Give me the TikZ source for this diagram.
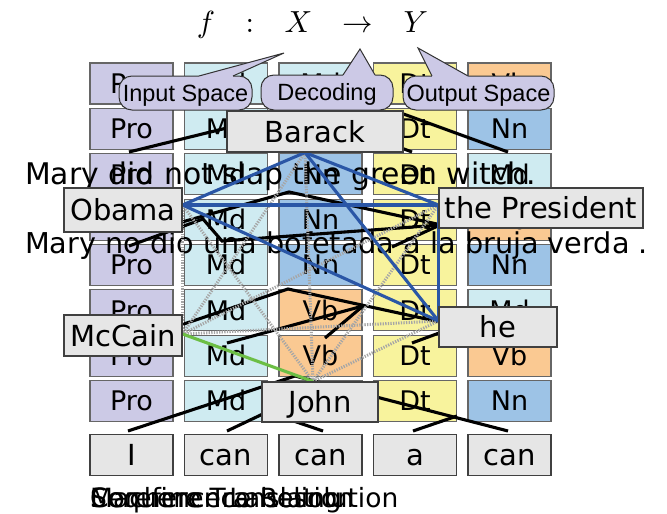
\documentclass[tikz,border=0pt]{standalone}
\usepackage{fontspec}
\setmainfont{DejaVu Sans}
\newfontfamily\callfont{Liberation Sans}
\usetikzlibrary{calc}
\definecolor{cPro}{RGB}{204,202,230}
\definecolor{cMd}{RGB}{207,235,241}
\definecolor{cNn}{RGB}{157,195,230}
\definecolor{cVb}{RGB}{250,201,146}
\definecolor{cDt}{RGB}{248,243,157}
\definecolor{cLbl}{RGB}{230,230,230}
\definecolor{cCall}{RGB}{204,201,230}
\definecolor{cBlue}{RGB}{42,86,166}
\definecolor{cGreen}{RGB}{108,190,69}
\newcommand{\myTagFont}{\fontsize{27}{32}\selectfont}
\newcommand{\myLblFont}{\fontsize{29}{34}\selectfont}
\newcommand{\myEnFont}{\fontsize{29.8}{35}\selectfont}
\newcommand{\myEsFont}{\fontsize{28.7}{34}\selectfont}
\newcommand{\myCallFont}{\callfont\fontsize{23.5}{28}\selectfont}
\newcommand{\myBotFont}{\fontsize{26.5}{31}\selectfont}
\pgfdeclarelayer{back}
\pgfsetlayers{back,main}
\tikzset{
 tagbox/.style={draw=black!60, line width=1.1pt, minimum width=83pt, minimum height=41pt, inner sep=0pt, text height=19.7pt, text depth=0pt, font=\myTagFont},
 wordbox/.style={tagbox, fill=cLbl, draw=black!75, font=\myLblFont, text height=21pt},
 mention/.style={draw=black!75, fill=cLbl, line width=1.1pt, inner sep=0pt, text height=21pt, text depth=0pt, font=\myLblFont},
 tree/.style={draw=black, line width=3.1pt},
 coref/.style={draw=cBlue, line width=3.1pt},
 other/.style={draw=cGreen, line width=3.1pt},
 cross/.style={draw=gray!70, line width=3pt, dash pattern=on 1.3pt off 1.3pt},
 callbox/.style={fill=cCall, draw=black!80, line width=1pt, rounded corners=13pt, inner sep=0pt, font=\myCallFont, text height=16.8pt, text depth=0pt},
 sent/.style={inner sep=0pt, anchor=base west},
 ptr/.style={draw=black!80, line width=1pt},
}
\begin{document}
\begin{tikzpicture}[x=1pt,y=-1pt]
\useasboundingbox (0,0) rectangle (667,514);
\begin{pgfonlayer}{back}
\fill[white] (0,0) rectangle (667,514);
% tag lattice
\foreach \row [count=\i] in {{Pro,Md,Md,Dt,Vb},{Pro,Md,Md,Dt,Nn},{Pro,Md,Nn,Dt,Md},{Pro,Md,Nn,Dt,Vb},{Pro,Md,Nn,Dt,Nn},{Pro,Md,Vb,Dt,Md},{Pro,Md,Vb,Dt,Vb},{Pro,Md,Vb,Dt,Nn}}{
  \foreach \t [count=\j] in \row {
    \node[tagbox, fill=c\t] (t\i-\j) at ({131.5+94.5*(\j-1)},{83.5+45.36*(\i-1)}) {\t};
  }
}
% words
\foreach \w [count=\j] in {I,can,can,a,can}
  \node[wordbox] (w\j) at ({131.5+94.5*(\j-1)},455) {\w};
% tree / alignment lines
\coordinate (p1) at (129,152); \coordinate (p2) at (300,110); \coordinate (p3) at (412,152);
\coordinate (p4) at (398,112); \coordinate (p5) at (508,152);
\coordinate (q1) at (150,231); \coordinate (q2) at (289,192); \coordinate (q3) at (437,224);
\coordinate (q4) at (129,246); \coordinate (q5) at (203,219); \coordinate (q6) at (222,241);
\coordinate (q7) at (440,225); \coordinate (q8) at (392,247);
\coordinate (r1) at (160,332); \coordinate (r2) at (288,289); \coordinate (r3) at (440,322);
\coordinate (r4) at (227,343); \coordinate (r5) at (363,306); \coordinate (r6) at (325,338);
\coordinate (r7) at (412,343); \coordinate (r8) at (450,329);
\coordinate (s1) at (128,431); \coordinate (s2) at (295,376); \coordinate (s7) at (508,431);
\coordinate (s3) at (227,431); \coordinate (s4) at (267,412); \coordinate (s5) at (323,431);
\coordinate (s8) at (413,431); \coordinate (s9) at (457,416);
\draw[tree] (p1) -- (p2) -- (p3);
\draw[tree] (p4) -- (p5);
\draw[tree] (q1) -- (q2) -- (q3);
\draw[tree] (q4) -- (q5) -- (q6) -- (q7);
\draw[tree] (q8) -- (q7);
\draw[tree] (r1) -- (r2) -- (r3);
\draw[tree] (r4) -- (r5);
\draw[tree] (r6) -- (r5);
\draw[tree] (r7) -- (r8);
\draw[tree] (s1) -- (s2) -- (s7);
\draw[tree] (s3) -- (s4) -- (s5);
\draw[tree] (s8) -- (s9);
% sentences
\node[sent, font=\myEnFont] (en) at (25,184) {Mary did not slap the green witch.};
\node[sent, font=\myEsFont] (es) at (25,253) {Mary no dio una bofetada a la bruja verda .};
\end{pgfonlayer}
% mentions
\node[mention, minimum width=176pt, minimum height=41pt] (barack) at (315,131.5) {Barack};
\node[mention, minimum width=118pt, minimum height=44pt] (obama) at (123,210) {Obama};
\node[mention, minimum width=204pt, minimum height=40pt] (pres) at (541,208) {the President};
\node[mention, minimum width=118pt, minimum height=41pt] (mccain) at (123,335.5) {McCain};
\node[mention, minimum width=118pt, minimum height=40pt] (he) at (498,327) {he};
\node[mention, minimum width=116pt, minimum height=40pt] (john) at (320,402) {John};
\coordinate (aB) at ([xshift=-10pt]barack.south);
\coordinate (aO) at ([yshift=5pt]obama.east);
\coordinate (aP) at ([yshift=3pt]pres.west);
\coordinate (aH) at ([yshift=6pt]he.west);
\coordinate (aM) at ([yshift=1.5pt]mccain.east);
\coordinate (aJ) at ([xshift=-7pt]john.north);
\begin{pgfonlayer}{back}
\draw[cross] (aB) -- (aM);
\draw[cross] (aB) -- (aJ);
\draw[cross] (aO) -- (aM);
\draw[cross] (aO) -- (aJ);
\draw[cross] (aP) -- (aM);
\draw[cross] (aP) -- (aJ);
\draw[cross] (aH) -- (aM);
\draw[cross] (aH) -- (aJ);
\draw[coref] (aB) -- (aO);
\draw[coref] (aB) -- (aP);
\draw[coref] (aB) -- (aH);
\draw[coref] (aO) -- (aP);
\draw[coref] (aO) -- (aH);
\draw[coref] (aP) -- (aH);
\draw[other] (aM) -- (aJ);
\end{pgfonlayer}
% callouts
\node[callbox, minimum width=133pt, minimum height=34pt] (cin) at (185.5,93) {Input Space};
\coordinate (tipIn) at (284,53);
\fill[cCall] (199,80) -- (199,75.5) -- (tipIn) -- (233,75.5) -- (233,80) -- cycle;
\draw[ptr] (199,76) -- (tipIn) -- (233,76);
\node[callbox, minimum width=132pt, minimum height=35pt] (cdec) at (327,92.5) {Decoding};
\coordinate (tipDec) at (360,49);
\fill[cCall] (343,79) -- (343,74.5) -- (tipDec) -- (375,74.5) -- (375,79) -- cycle;
\draw[ptr] (343,75) -- (tipDec) -- (375,75);
\node[callbox, minimum width=151pt, minimum height=34pt] (cout) at (478.5,93) {Output Space};
\coordinate (tipOut) at (418,48);
\fill[cCall] (432,80) -- (432,75.5) -- (tipOut) -- (468,75.5) -- (468,80) -- cycle;
\draw[ptr] (432,76) -- (tipOut) -- (468,76);
% title
\node[inner sep=0pt, scale=3.05] (title) at (312.5,25) {$f\quad{:}\quad X\quad{\rightarrow}\quad Y$};
% task names
\node[sent, font=\myBotFont] (lab1) at (90,507) {Sequence Labeling};
\node[sent, font=\myBotFont] (lab2) at (90,507) {Machine Translation};
\node[sent, font=\myBotFont] (lab3) at (90,507) {Coreference Resolution};
\end{tikzpicture}
\end{document}
